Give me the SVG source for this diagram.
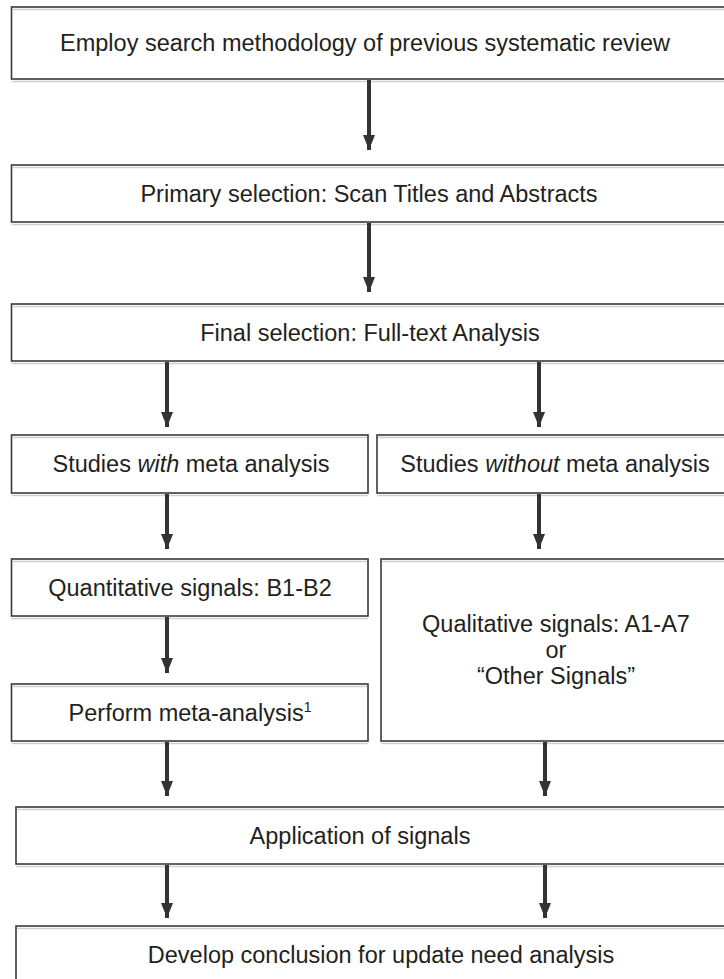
<svg xmlns="http://www.w3.org/2000/svg" width="724" height="979" viewBox="0 0 724 979">
  <defs>
    <style>
      .box { fill: #ffffff; stroke: #3a3a3a; stroke-width: 1.6; }
      .sh { stroke: #cfcfcf; stroke-width: 1.6; }
      .t { font-family: "Liberation Sans", Arial, sans-serif; font-size: 23.5px; fill: #231f20; text-anchor: middle; }
      .sup { font-size: 14px; }
      .conn line { stroke: #333333; stroke-width: 4; marker-end: url(#ah); }
    </style>
    <marker id="ah" markerUnits="userSpaceOnUse" markerWidth="16" markerHeight="13" refX="15" refY="6" orient="auto">
      <path d="M0,0 L15,6 L0,12 Z" fill="#333333"/>
    </marker>
  </defs>
  <rect x="0" y="0" width="724" height="979" fill="#ffffff"/>

  <g id="n1">
    <rect class="box" x="11.5" y="7" width="730" height="72"/>
    <line class="sh" x1="12.5" y1="9.5" x2="724" y2="9.5"/>
    <line class="sh" x1="11.5" y1="81.5" x2="724" y2="81.5"/>
    <text class="t" x="365" y="51">Employ search methodology of previous systematic review</text>
  </g>

  <g id="n2">
    <rect class="box" x="11.5" y="165" width="730" height="57"/>
    <line class="sh" x1="12.5" y1="167.5" x2="724" y2="167.5"/>
    <line class="sh" x1="11.5" y1="224.5" x2="724" y2="224.5"/>
    <text class="t" x="369" y="202">Primary selection: Scan Titles and Abstracts</text>
  </g>

  <g id="n3">
    <rect class="box" x="11.5" y="304" width="730" height="57"/>
    <line class="sh" x1="12.5" y1="306.5" x2="724" y2="306.5"/>
    <line class="sh" x1="11.5" y1="363.5" x2="724" y2="363.5"/>
    <text class="t" x="370" y="341">Final selection: Full-text Analysis</text>
  </g>

  <g id="n4">
    <rect class="box" x="11.5" y="435" width="356.5" height="58"/>
    <line class="sh" x1="12.5" y1="437.5" x2="367" y2="437.5"/>
    <line class="sh" x1="11.5" y1="495.5" x2="368" y2="495.5"/>
    <text class="t" x="191" y="472">Studies <tspan font-style="italic">with</tspan> meta analysis</text>
  </g>

  <g id="n5">
    <rect class="box" x="377" y="435" width="365" height="58"/>
    <line class="sh" x1="378" y1="437.5" x2="724" y2="437.5"/>
    <line class="sh" x1="377" y1="495.5" x2="724" y2="495.5"/>
    <text class="t" x="555" y="472">Studies <tspan font-style="italic">without</tspan> meta analysis</text>
  </g>

  <g id="n6">
    <rect class="box" x="11.5" y="559" width="356.5" height="57"/>
    <line class="sh" x1="12.5" y1="561.5" x2="367" y2="561.5"/>
    <line class="sh" x1="11.5" y1="618.5" x2="368" y2="618.5"/>
    <text class="t" x="190" y="596">Quantitative signals: B1-B2</text>
  </g>

  <g id="n7">
    <rect class="box" x="11.5" y="684" width="356.5" height="57"/>
    <line class="sh" x1="12.5" y1="686.5" x2="367" y2="686.5"/>
    <line class="sh" x1="11.5" y1="743.5" x2="368" y2="743.5"/>
    <text class="t" x="190" y="721">Perform meta-analysis<tspan class="sup" dy="-9">1</tspan></text>
  </g>

  <g id="n8">
    <rect class="box" x="381" y="559" width="361" height="182"/>
    <line class="sh" x1="382" y1="561.5" x2="724" y2="561.5"/>
    <line class="sh" x1="381" y1="743.5" x2="724" y2="743.5"/>
    <text class="t" x="556" y="632">Qualitative signals: A1-A7</text>
    <text class="t" x="556" y="658">or</text>
    <text class="t" x="556" y="684">“Other Signals”</text>
  </g>

  <g id="n9">
    <rect class="box" x="16" y="807" width="726" height="57"/>
    <line class="sh" x1="17" y1="809.5" x2="724" y2="809.5"/>
    <line class="sh" x1="16" y1="866.5" x2="724" y2="866.5"/>
    <text class="t" x="360" y="844">Application of signals</text>
  </g>

  <g id="n10">
    <rect class="box" x="16" y="926" width="726" height="60"/>
    <line class="sh" x1="17" y1="928.5" x2="724" y2="928.5"/>
    <text class="t" x="381" y="963">Develop conclusion for update need analysis</text>
  </g>

  <g id="connectors" class="conn">
    <line x1="369" y1="80" x2="369" y2="150"/>
    <line x1="369" y1="223" x2="369" y2="292"/>
    <line x1="167" y1="362" x2="167" y2="427"/>
    <line x1="539" y1="362" x2="539" y2="427"/>
    <line x1="167" y1="494" x2="167" y2="549"/>
    <line x1="539" y1="494" x2="539" y2="549"/>
    <line x1="167" y1="617" x2="167" y2="673"/>
    <line x1="167" y1="742" x2="167" y2="796"/>
    <line x1="545" y1="742" x2="545" y2="796"/>
    <line x1="167" y1="865" x2="167" y2="918"/>
    <line x1="545" y1="865" x2="545" y2="918"/>
  </g>
</svg>
